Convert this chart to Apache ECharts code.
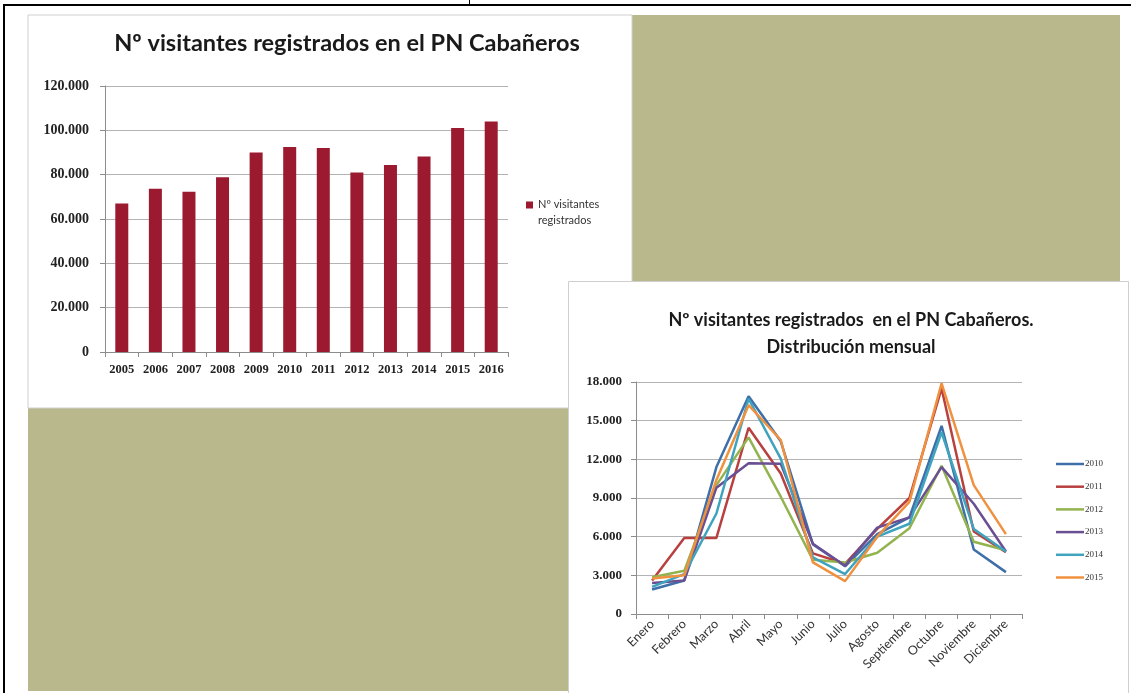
<!DOCTYPE html>
<html>
<head>
<meta charset="utf-8">
<script src="https://cdn.jsdelivr.net/npm/echarts@6/dist/echarts.min.js"></script>
<style>
html,body{margin:0;padding:0;background:#fff;}
#chart{width:1131px;height:693px;}
</style>
</head>
<body>
<div id="chart"></div>
<script>
// ---- Data: annual visitors ----
const years = ['2005','2006','2007','2008','2009','2010','2011','2012','2013','2014','2015','2016'];
const annualVisitors = [67000, 73700, 72300, 78800, 90000, 92500, 92000, 81000, 84400, 88200, 101000, 104000];

// ---- Data: monthly distribution ----
const months = ['Enero','Febrero','Marzo','Abril','Mayo','Junio','Julio','Agosto','Septiembre','Octubre','Noviembre','Diciembre'];
const m2010 = [1900, 2600, 11400, 16900, 13400, 5400, 3700, 6200, 7500, 14600, 5000, 3250];
const m2011 = [2600, 5900, 5900, 14450, 10900, 4700, 3900, 6600, 9000, 17500, 6400, 4800];
const m2012 = [2850, 3350, 10000, 13700, 9100, 4200, 4000, 4750, 6650, 11500, 5600, 4950];
const m2013 = [2400, 2600, 9800, 11700, 11650, 5450, 3750, 6700, 7500, 11400, 8550, 4850];
const m2014 = [2100, 3100, 7800, 16700, 12050, 4400, 3100, 6000, 7000, 14100, 6600, 4850];
const m2015 = [2750, 3000, 10400, 16200, 13500, 4000, 2550, 6000, 8700, 17900, 10000, 6200];
const seriesYears = ['2010','2011','2012','2013','2014','2015'];

const fmt = v => String(v).replace(/\B(?=(\d{3})+(?!\d))/g, '.');

const chart = echarts.init(document.getElementById('chart'), null, {renderer:'canvas'});

const olive = '#b9b78c';
const lineColors = ['#3e6fa9', '#b8413f', '#93b34f', '#6a4f92', '#3fa3be', '#f0913f'];
const monthly = [m2010, m2011, m2012, m2013, m2014, m2015];

const option = {
  animation: false,
  backgroundColor: '#ffffff',
  graphic: [
    {type:'rect', z:-20, shape:{x:28, y:15, width:1092, height:676}, style:{fill:olive}},
    {type:'rect', z:-19, shape:{x:28, y:15, width:604, height:393}, style:{fill:'#ffffff', stroke:'#cfcfcf', lineWidth:1}},
    {type:'rect', z:-18, shape:{x:568.5, y:281.5, width:560, height:420}, style:{fill:'#ffffff', stroke:'#cfcfcf', lineWidth:1}},
    {type:'line', z:-17, shape:{x1:3, y1:5, x2:1131, y2:5}, style:{stroke:'#000', lineWidth:2}},
    {type:'line', z:-17, shape:{x1:4, y1:5, x2:4, y2:693}, style:{stroke:'#000', lineWidth:2}},
    {type:'line', z:-17, shape:{x1:469.5, y1:0, x2:469.5, y2:5}, style:{stroke:'#000', lineWidth:1}}
  ],
  title: [
    {text:'Nº visitantes registrados en el PN Cabañeros', left:342, top:26, textAlign:'center',
     textStyle:{fontFamily:'Lato', fontSize:23.5, fontWeight:'bold', color:'#1a1a1a'}},
    {text:'Nº visitantes registrados  en el PN Cabañeros.\nDistribución mensual', left:846, top:302, textAlign:'center',
     textStyle:{fontFamily:'Lato', fontSize:18, fontWeight:'bold', color:'#1a1a1a', lineHeight:27}}
  ],
  legend: [
    {
      data:['Nº visitantes registrados'],
      left:521, top:191, orient:'vertical',
      icon:'path://M0,0L10,0L10,10L0,10Z M0,30L0.01,30',
      itemWidth:7, itemHeight:22, itemGap:4,
      formatter: () => 'Nº visitantes\nregistrados',
      textStyle:{fontFamily:'Lato', fontSize:11, color:'#333', lineHeight:16}
    },
    {
      data: seriesYears,
      left:1051, top:454, orient:'vertical',
      icon:'rect', itemWidth:28, itemHeight:2.5, itemGap:12.7,
      textStyle:{fontFamily:'Liberation Serif', fontSize:9, color:'#333', lineHeight:10, padding:[0,0,0,-4]}
    }
  ],
  grid: [
    {left:105, top:86, width:403, height:266, containLabel:false},
    {left:636, top:382, width:386, height:232, containLabel:false}
  ],
  xAxis: [
    {type:'category', gridIndex:0, data:years, boundaryGap:true,
     axisLine:{show:true, lineStyle:{color:'#8c8c8c'}},
     axisTick:{show:true, length:5, lineStyle:{color:'#8c8c8c'}},
     axisLabel:{fontFamily:'Liberation Serif', fontSize:12.5, fontWeight:'bold', color:'#222', margin:11, interval:0}},
    {type:'category', gridIndex:1, data:months, boundaryGap:true,
     axisLine:{show:true, lineStyle:{color:'#8c8c8c'}},
     axisTick:{show:true, length:5, lineStyle:{color:'#8c8c8c'}},
     axisLabel:{fontFamily:'Lato', fontSize:12.5, color:'#333', rotate:45, margin:8, interval:0}}
  ],
  yAxis: [
    {type:'value', gridIndex:0, min:0, max:120000, interval:20000,
     axisLine:{show:true, lineStyle:{color:'#8c8c8c'}},
     axisTick:{show:true, length:5, lineStyle:{color:'#8c8c8c'}},
     splitLine:{show:true, lineStyle:{color:'#b3b3b3', width:1}},
     axisLabel:{fontFamily:'Liberation Serif', fontSize:14, fontWeight:'bold', color:'#222', margin:16, formatter:fmt}},
    {type:'value', gridIndex:1, min:0, max:18000, interval:3000,
     axisLine:{show:true, lineStyle:{color:'#8c8c8c'}},
     axisTick:{show:true, length:5, lineStyle:{color:'#8c8c8c'}},
     splitLine:{show:true, lineStyle:{color:'#b3b3b3', width:1}},
     axisLabel:{fontFamily:'Liberation Serif', fontSize:13, fontWeight:'bold', color:'#222', margin:14, formatter:fmt}}
  ],
  series: [
    {name:'Nº visitantes registrados', type:'bar', xAxisIndex:0, yAxisIndex:0, data:annualVisitors,
     barWidth:13, itemStyle:{color:'#9b1a2f'}}
  ].concat(seriesYears.map((y, i) => ({
    name:y, type:'line', xAxisIndex:1, yAxisIndex:1, data:monthly[i],
    showSymbol:false, symbol:'none', smooth:false,
    lineStyle:{color:lineColors[i], width:2.5}, itemStyle:{color:lineColors[i]}
  })))
};
chart.setOption(option);
</script>
</body>
</html>
